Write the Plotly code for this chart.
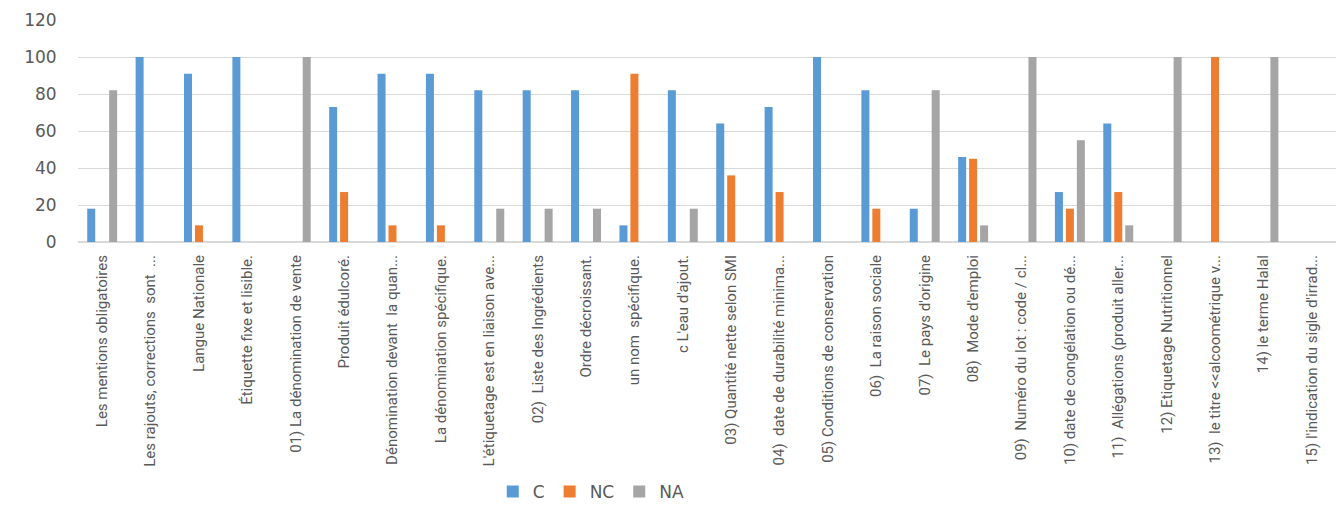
import plotly.graph_objects as go

categories = [
    "Les mentions obligatoires",
    "Les rajouts, corrections  sont  ...",
    "Langue Nationale",
    "Étiquette fixe et lisible.",
    "01) La dénomination de vente",
    "Produit édulcoré.",
    "Dénomination devant  la quan...",
    "La dénomination spécifique.",
    "L'étiquetage est en liaison ave...",
    "02)  Liste des Ingrédients",
    "Ordre décroissant.",
    "un nom  spécifique.",
    "c L'eau d'ajout.",
    "03) Quantité nette selon SMI",
    "04)  date de durabilité minima...",
    "05) Conditions de conservation",
    "06)  La raison sociale",
    "07)  Le pays d'origine",
    "08)  Mode d'emploi",
    "09)  Numéro du lot : code / cl...",
    "10) date de congélation ou dé...",
    "11)  Allégations (produit aller...",
    "12) Etiquetage Nutritionnel",
    "13)  le titre <<alcoométrique v...",
    "14) le terme Halal",
    "15) l'indication du sigle d'irrad...",
]

C = [18, 100, 91, 100, 0, 73, 91, 91, 82, 82, 82, 9, 82, 64, 73, 100, 82, 18, 46, 0, 27, 64, 0, 0, 0, 0]
NC = [0, 0, 9, 0, 0, 27, 9, 9, 0, 0, 0, 91, 0, 36, 27, 0, 18, 0, 45, 0, 18, 27, 0, 100, 0, 0]
NA = [82, 0, 0, 0, 100, 0, 0, 0, 18, 18, 18, 0, 18, 0, 0, 0, 0, 82, 9, 100, 55, 9, 100, 0, 100, 0]

series = [("C", C, "#5B9BD5"), ("NC", NC, "#ED7D31"), ("NA", NA, "#A5A5A5")]

fig = go.Figure()
for name, vals, color in series:
    fig.add_trace(go.Bar(name=name, x=categories, y=vals, marker_color=color,
                         marker_line_width=0))

fig.update_layout(
    width=1336, height=510,
    margin=dict(l=78, r=0, t=20, b=268),
    plot_bgcolor="white", paper_bgcolor="white",
    barmode="group", bargap=0.32, bargroupgap=0.27,
    showlegend=True,
    legend=dict(orientation="h", x=0.408, xanchor="center",
                yref="container", y=-0.02, yanchor="bottom",
                font=dict(family="DejaVu Sans", size=17, color="#595959"),
                itemwidth=30, traceorder="normal", borderwidth=0),
    xaxis=dict(tickangle=-90, showgrid=False, showline=False, ticks="outside",
               ticklen=6, tickcolor="rgba(0,0,0,0)", automargin=False,
               tickfont=dict(family="Liberation Sans Narrow, Roboto", size=15, color="#595959")),
    yaxis=dict(range=[0, 120], dtick=20, showgrid=True, gridcolor="#D9D9D9", gridwidth=1,
               zeroline=True, zerolinecolor="#D9D9D9", ticks="", automargin=False,
               ticksuffix="\u2003\u2009",
               tickfont=dict(family="DejaVu Sans", size=17, color="#595959")),
)

fig.write_html("out.html")
